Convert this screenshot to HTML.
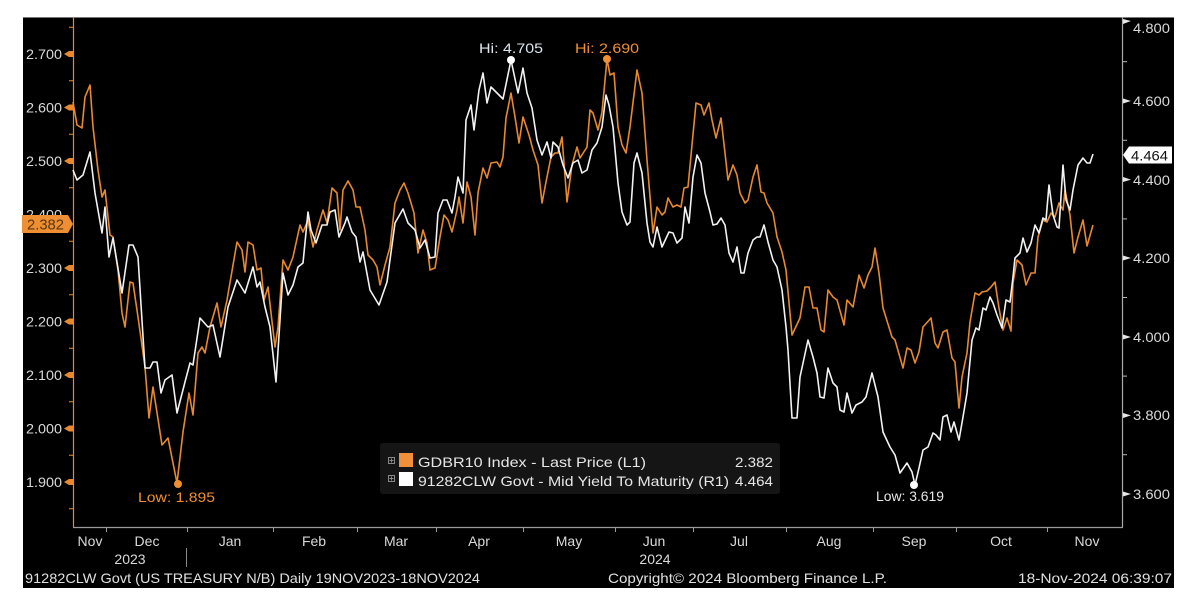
<!DOCTYPE html>
<html><head><meta charset="utf-8"><style>
html,body{margin:0;padding:0;background:#fff;}
svg{display:block;}
text{font-family:"Liberation Sans",sans-serif;}
</style></head><body>
<svg width="1200" height="612" viewBox="0 0 1200 612" xmlns="http://www.w3.org/2000/svg">
<rect x="0" y="0" width="1200" height="612" fill="#fff"/>
<rect x="23" y="17" width="1151" height="571" fill="#000"/>
<line x1="23" y1="17.5" x2="1174" y2="17.5" stroke="#777" stroke-width="1"/>
<!-- axes -->
<line x1="73.5" y1="17" x2="73.5" y2="527" stroke="#e8892e" stroke-width="1.2"/>
<line x1="1122.5" y1="17" x2="1122.5" y2="527" stroke="#aaa" stroke-width="1.2"/>
<line x1="73" y1="527.5" x2="1123" y2="527.5" stroke="#999" stroke-width="1.2"/>
<!-- left ticks -->
<g fill="#e8892e" stroke="#e8892e">
<polygon points="64,54 69,51 73,51 73,57 69,57" stroke="none"/>
<polygon points="64,107.5 69,104.5 73,104.5 73,110.5 69,110.5" stroke="none"/>
<polygon points="64,161 69,158 73,158 73,164 69,164" stroke="none"/>
<polygon points="64,268 69,265 73,265 73,271 69,271" stroke="none"/>
<polygon points="64,321.5 69,318.5 73,318.5 73,324.5 69,324.5" stroke="none"/>
<polygon points="64,375 69,372 73,372 73,378 69,378" stroke="none"/>
<polygon points="64,428.5 69,425.5 73,425.5 73,431.5 69,431.5" stroke="none"/>
<polygon points="64,482 69,479 73,479 73,485 69,485" stroke="none"/>
<line x1="69" y1="27.25" x2="73" y2="27.25"/>
<line x1="69" y1="80.75" x2="73" y2="80.75"/>
<line x1="69" y1="134.25" x2="73" y2="134.25"/>
<line x1="69" y1="187.75" x2="73" y2="187.75"/>
<line x1="69" y1="241.25" x2="73" y2="241.25"/>
<line x1="69" y1="294.75" x2="73" y2="294.75"/>
<line x1="69" y1="348.25" x2="73" y2="348.25"/>
<line x1="69" y1="401.75" x2="73" y2="401.75"/>
<line x1="69" y1="455.25" x2="73" y2="455.25"/>
<line x1="69" y1="508.75" x2="73" y2="508.75"/>
</g>
<g font-size="14" fill="#d9d9d9" text-anchor="end">
<text x="62" y="59" textLength="36" lengthAdjust="spacingAndGlyphs">2.700</text>
<text x="62" y="112.5" textLength="36" lengthAdjust="spacingAndGlyphs">2.600</text>
<text x="62" y="166" textLength="36" lengthAdjust="spacingAndGlyphs">2.500</text>
<text x="62" y="219.5" textLength="36" lengthAdjust="spacingAndGlyphs">2.400</text>
<text x="62" y="273" textLength="36" lengthAdjust="spacingAndGlyphs">2.300</text>
<text x="62" y="326.5" textLength="36" lengthAdjust="spacingAndGlyphs">2.200</text>
<text x="62" y="380" textLength="36" lengthAdjust="spacingAndGlyphs">2.100</text>
<text x="62" y="433.5" textLength="36" lengthAdjust="spacingAndGlyphs">2.000</text>
<text x="62" y="487" textLength="36" lengthAdjust="spacingAndGlyphs">1.900</text>
</g>
<!-- 2.382 tag -->
<polygon points="22,215 68,215 73,224 68,233 22,233" fill="#ef8f33"/>
<text x="27" y="229.5" font-size="15" fill="#5a3510" textLength="37" lengthAdjust="spacingAndGlyphs">2.382</text>
<!-- right ticks -->
<g fill="#e6e6e6" stroke="#bbb">
<polygon points="1123,19 1131,21 1123,24" stroke="none"/>
<polygon points="1123,98.5 1131,101 1123,103.5" stroke="none"/>
<polygon points="1123,177 1131,179.6 1123,182" stroke="none"/>
<polygon points="1123,255.5 1131,258 1123,260.5" stroke="none"/>
<polygon points="1123,334.5 1131,337 1123,339.5" stroke="none"/>
<polygon points="1123,413 1131,415.4 1123,418" stroke="none"/>
<polygon points="1123,491.5 1131,494 1123,496.5" stroke="none"/>
<line x1="1123" y1="61.7" x2="1127" y2="61.7"/>
<line x1="1123" y1="140.3" x2="1127" y2="140.3"/>
<line x1="1123" y1="218.9" x2="1127" y2="218.9"/>
<line x1="1123" y1="297.5" x2="1127" y2="297.5"/>
<line x1="1123" y1="376.1" x2="1127" y2="376.1"/>
<line x1="1123" y1="454.7" x2="1127" y2="454.7"/>
</g>
<g font-size="14" fill="#d9d9d9">
<text x="1133" y="33" textLength="37" lengthAdjust="spacingAndGlyphs">4.800</text>
<text x="1133" y="106" textLength="37" lengthAdjust="spacingAndGlyphs">4.600</text>
<text x="1133" y="185" textLength="37" lengthAdjust="spacingAndGlyphs">4.400</text>
<text x="1133" y="263" textLength="37" lengthAdjust="spacingAndGlyphs">4.200</text>
<text x="1133" y="342" textLength="37" lengthAdjust="spacingAndGlyphs">4.000</text>
<text x="1133" y="420" textLength="37" lengthAdjust="spacingAndGlyphs">3.800</text>
<text x="1133" y="499" textLength="37" lengthAdjust="spacingAndGlyphs">3.600</text>
</g>
<!-- 4.464 tag -->
<polygon points="1123,155 1129,146.5 1172,146.5 1172,163.5 1129,163.5" fill="#fff"/>
<text x="1131" y="160.5" font-size="14" fill="#111" textLength="37" lengthAdjust="spacingAndGlyphs">4.464</text>
<!-- x ticks -->
<g stroke="#999" stroke-width="1">
<line x1="106.5" y1="527" x2="106.5" y2="532"/>
<line x1="187.5" y1="527" x2="187.5" y2="532"/>
<line x1="273.5" y1="527" x2="273.5" y2="532"/>
<line x1="357.5" y1="527" x2="357.5" y2="532"/>
<line x1="436.5" y1="527" x2="436.5" y2="532"/>
<line x1="523.5" y1="527" x2="523.5" y2="532"/>
<line x1="615.5" y1="527" x2="615.5" y2="532"/>
<line x1="693.5" y1="527" x2="693.5" y2="532"/>
<line x1="786.5" y1="527" x2="786.5" y2="532"/>
<line x1="873.5" y1="527" x2="873.5" y2="532"/>
<line x1="956.5" y1="527" x2="956.5" y2="532"/>
<line x1="1047.5" y1="527" x2="1047.5" y2="532"/>
<line x1="186.5" y1="548" x2="186.5" y2="567" stroke="#888"/>
</g>
<g font-size="14" fill="#d9d9d9" text-anchor="middle">
<text x="90" y="546">Nov</text>
<text x="147" y="546">Dec</text>
<text x="230" y="546">Jan</text>
<text x="314" y="546">Feb</text>
<text x="396" y="546">Mar</text>
<text x="479" y="546">Apr</text>
<text x="569" y="546">May</text>
<text x="654" y="546">Jun</text>
<text x="739" y="546">Jul</text>
<text x="829" y="546">Aug</text>
<text x="914" y="546">Sep</text>
<text x="1001" y="546">Oct</text>
<text x="1087" y="546">Nov</text>
<text x="130" y="564">2023</text>
<text x="655" y="564">2024</text>
</g>
<!-- footer -->
<g font-size="14" fill="#e0e0e0">
<text x="25" y="583" textLength="455" lengthAdjust="spacingAndGlyphs">91282CLW Govt (US TREASURY N/B)  Daily 19NOV2023-18NOV2024</text>
<text x="608" y="583" textLength="279" lengthAdjust="spacingAndGlyphs">Copyright© 2024 Bloomberg Finance L.P.</text>
<text x="1018" y="583" textLength="154" lengthAdjust="spacingAndGlyphs">18-Nov-2024 06:39:07</text>
</g>
<!-- series -->
<polyline fill="none" stroke="#e8892e" stroke-width="1.6" stroke-linejoin="round" points="73,102 77,125 82,128 85,97 90,85 93,127 98,170 102,197 105,190 110,235 113,237 118,270 122,313 125,327 130,282 133,283 138,317 145,367 149,418 153,387 162,445 168,438 177,483 183,432 189,393 193,415 198,353 202,347 205,353 210,327 217,303 221,327 227,300 237,242 242,250 245,272 248,242 253,245 257,270 261,268 264,300 268,287 275,347 278,327 283,260 288,270 293,257 300,225 303,232 308,220 313,247 317,230 323,210 327,223 332,188 337,193 340,230 343,190 348,181 353,190 356,207 360,207 365,230 368,255 373,260 377,267 380,285 385,265 390,247 395,203 400,190 404,183 408,193 414,213 418,253 423,230 427,243 430,270 435,268 440,237 444,215 448,220 452,232 457,210 459,197 463,223 467,182 471,197 475,235 478,193 483,168 487,178 491,163 497,162 500,167 503,157 506,118 511,93 515,117 519,143 523,117 529,135 533,150 538,165 542,203 546,182 551,157 555,153 558,153 562,137 567,202 572,165 577,147 580,158 587,147 590,110 593,113 598,130 602,112 607,59 610,75 614,73 618,127 622,145 626,153 630,127 637,70 642,93 647,160 653,233 657,207 662,215 665,212 668,198 673,207 677,205 681,207 684,188 688,187 696,103 701,105 704,115 709,103 712,120 716,138 721,118 725,153 728,180 733,165 737,175 740,193 745,203 748,200 753,177 757,165 761,192 764,193 767,203 773,213 777,237 782,252 786,270 792,335 800,318 805,287 809,287 813,308 817,308 821,330 824,332 828,290 833,297 837,300 844,325 847,300 853,307 859,275 864,288 868,275 872,267 875,248 879,273 883,308 892,337 895,340 903,368 907,348 911,350 915,363 919,352 923,327 931,318 935,343 938,348 943,332 947,330 952,358 955,362 959,408 962,377 967,353 970,322 975,293 979,295 982,292 987,291 991,287 995,282 999,308 1003,330 1007,318 1011,331 1013,283 1017,260 1022,265 1026,285 1031,273 1035,273 1038,237 1043,220 1047,222 1051,213 1055,217 1059,203 1063,210 1065,190 1070,215 1074,253 1078,237 1083,220 1087,246 1093,225"/>
<polyline fill="none" stroke="#f2f2f2" stroke-width="1.6" stroke-linejoin="round" points="73,170 77,180 83,175 90,152 95,193 102,233 105,207 109,257 113,238 122,293 129,245 133,245 138,257 145,368 150,368 153,362 157,362 161,393 165,380 172,375 177,413 185,382 190,363 193,365 200,318 208,327 213,325 220,357 228,307 237,280 245,293 253,267 257,287 260,282 265,307 270,327 276,382 283,273 288,295 293,285 298,267 303,263 308,212 311,230 316,243 322,225 327,225 330,212 335,210 339,237 345,223 347,217 352,232 356,237 360,262 363,252 370,290 379,305 387,282 395,223 403,209 408,223 415,230 420,248 425,240 430,258 435,257 438,213 443,200 447,200 452,213 455,197 458,177 463,193 466,120 471,105 474,130 479,90 483,73 487,103 491,87 497,93 503,99 511,60 518,93 523,68 527,93 532,108 537,140 542,155 547,142 551,158 553,142 558,147 563,165 568,178 573,163 578,160 582,173 587,170 592,150 597,143 602,127 606,95 609,105 613,127 618,183 622,212 627,225 630,222 634,163 637,153 642,173 647,223 650,242 653,247 657,227 662,247 669,232 673,233 677,243 682,238 685,207 689,223 693,177 697,155 701,163 705,193 710,212 713,225 717,224 721,218 725,225 729,253 733,262 737,247 741,273 744,273 748,253 753,240 757,237 760,237 764,225 768,242 773,260 777,267 782,290 786,327 788,350 792,418 797,418 800,377 808,340 813,357 817,373 820,397 824,398 828,368 833,383 837,387 840,410 844,412 847,393 852,413 856,405 862,402 866,397 872,373 878,397 883,432 890,447 895,455 900,473 907,463 912,472 915,485 919,468 923,450 928,447 933,433 936,435 940,440 943,417 947,415 951,432 954,422 959,440 963,417 967,393 972,340 976,328 979,330 983,308 986,310 990,297 993,303 997,315 1002,328 1006,300 1010,302 1013,277 1015,258 1020,253 1023,238 1027,252 1031,243 1035,225 1039,233 1043,218 1046,220 1049,185 1053,215 1057,227 1059,228 1063,165 1066,200 1070,210 1073,190 1078,165 1083,158 1087,163 1090,163 1093,154"/>
<!-- hi/low markers -->
<circle cx="511" cy="60" r="4" fill="#fff"/>
<circle cx="607" cy="59" r="4" fill="#ef8f33"/>
<circle cx="178" cy="484" r="4" fill="#ef8f33"/>
<circle cx="914" cy="485" r="4" fill="#fff"/>
<g font-size="14">
<text x="479" y="53" fill="#dde6ee" textLength="64" lengthAdjust="spacingAndGlyphs">Hi: 4.705</text>
<text x="575" y="53" fill="#ef8f33" textLength="64" lengthAdjust="spacingAndGlyphs">Hi: 2.690</text>
<text x="138" y="502" fill="#ef8f33" textLength="77" lengthAdjust="spacingAndGlyphs">Low: 1.895</text>
<text x="876" y="501" fill="#e6e6e6" textLength="68" lengthAdjust="spacingAndGlyphs">Low: 3.619</text>
</g>
<!-- legend -->
<rect x="380" y="443" width="400" height="51" rx="3" fill="#151515"/>
<g stroke="#888" fill="none" stroke-width="1">
<rect x="388.5" y="457.5" width="6" height="6"/>
<rect x="388.5" y="475.5" width="6" height="6"/>
<line x1="389.5" y1="460.5" x2="393.5" y2="460.5"/>
<line x1="391.5" y1="458.5" x2="391.5" y2="462.5"/>
<line x1="389.5" y1="478.5" x2="393.5" y2="478.5"/>
<line x1="391.5" y1="476.5" x2="391.5" y2="480.5"/>
</g>
<rect x="399" y="453" width="14" height="14" fill="#f0903a"/>
<rect x="399" y="472" width="14" height="14" fill="#fff"/>
<g font-size="14" fill="#e6e6e6">
<text x="418" y="467" textLength="228" lengthAdjust="spacingAndGlyphs">GDBR10 Index - Last Price (L1)</text>
<text x="418" y="486" textLength="311" lengthAdjust="spacingAndGlyphs">91282CLW Govt - Mid Yield To Maturity (R1)</text>
<text x="773" y="467" text-anchor="end" textLength="38" lengthAdjust="spacingAndGlyphs">2.382</text>
<text x="773" y="486" text-anchor="end" textLength="38" lengthAdjust="spacingAndGlyphs">4.464</text>
</g>
</svg>
</body></html>
